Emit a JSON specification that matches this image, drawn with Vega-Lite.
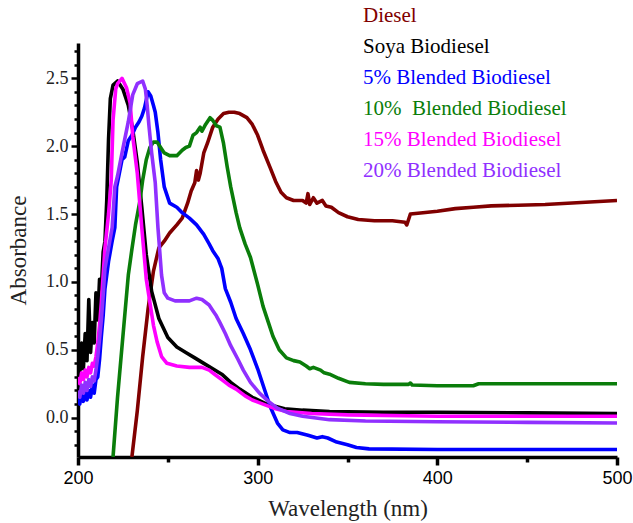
{
"$schema": "https://vega.github.io/schema/vega-lite/v6.json",
"width": 539, "height": 414,
"autosize": "none",
"padding": {"left": 78, "top": 43, "right": 16, "bottom": 66},
"background": "white",
"config": {"view": {"stroke": null}},
"data": {"values": [
{"s":"Diesel","wl":230,"a":-0.29},{"s":"Diesel","wl":233,"a":0.05},{"s":"Diesel","wl":236,"a":0.45},{"s":"Diesel","wl":239,"a":0.8},{"s":"Diesel","wl":242,"a":1.08},{"s":"Diesel","wl":245,"a":1.25},{"s":"Diesel","wl":248,"a":1.3},{"s":"Diesel","wl":251,"a":1.36},{"s":"Diesel","wl":255,"a":1.42},{"s":"Diesel","wl":258,"a":1.47},{"s":"Diesel","wl":261,"a":1.58},{"s":"Diesel","wl":263,"a":1.67},{"s":"Diesel","wl":265,"a":1.73},{"s":"Diesel","wl":266,"a":1.82},{"s":"Diesel","wl":267,"a":1.75},{"s":"Diesel","wl":268,"a":1.8},{"s":"Diesel","wl":270,"a":1.95},{"s":"Diesel","wl":272,"a":2.02},{"s":"Diesel","wl":275,"a":2.14},{"s":"Diesel","wl":278,"a":2.2},{"s":"Diesel","wl":281,"a":2.24},{"s":"Diesel","wl":284,"a":2.25},{"s":"Diesel","wl":287,"a":2.25},{"s":"Diesel","wl":290,"a":2.24},{"s":"Diesel","wl":294,"a":2.21},{"s":"Diesel","wl":297,"a":2.16},{"s":"Diesel","wl":300,"a":2.08},{"s":"Diesel","wl":303,"a":1.97},{"s":"Diesel","wl":307,"a":1.84},{"s":"Diesel","wl":310,"a":1.74},{"s":"Diesel","wl":313,"a":1.66},{"s":"Diesel","wl":316,"a":1.62},{"s":"Diesel","wl":320,"a":1.6},{"s":"Diesel","wl":325,"a":1.6},{"s":"Diesel","wl":327,"a":1.58},{"s":"Diesel","wl":328,"a":1.65},{"s":"Diesel","wl":329,"a":1.57},{"s":"Diesel","wl":331,"a":1.62},{"s":"Diesel","wl":333,"a":1.58},{"s":"Diesel","wl":336,"a":1.6},{"s":"Diesel","wl":338,"a":1.56},{"s":"Diesel","wl":341,"a":1.55},{"s":"Diesel","wl":345,"a":1.51},{"s":"Diesel","wl":350,"a":1.48},{"s":"Diesel","wl":356,"a":1.46},{"s":"Diesel","wl":365,"a":1.45},{"s":"Diesel","wl":375,"a":1.45},{"s":"Diesel","wl":382,"a":1.44},{"s":"Diesel","wl":383,"a":1.42},{"s":"Diesel","wl":384,"a":1.46},{"s":"Diesel","wl":385,"a":1.5},{"s":"Diesel","wl":392,"a":1.51},{"s":"Diesel","wl":400,"a":1.52},{"s":"Diesel","wl":410,"a":1.54},{"s":"Diesel","wl":420,"a":1.55},{"s":"Diesel","wl":430,"a":1.56},{"s":"Diesel","wl":445,"a":1.565},{"s":"Diesel","wl":460,"a":1.57},{"s":"Diesel","wl":480,"a":1.585},{"s":"Diesel","wl":500,"a":1.6},
{"s":"Soya Biodiesel","wl":200,"a":0.45},{"s":"Soya Biodiesel","wl":201,"a":0.32},{"s":"Soya Biodiesel","wl":202,"a":0.55},{"s":"Soya Biodiesel","wl":203,"a":0.36},{"s":"Soya Biodiesel","wl":204,"a":0.62},{"s":"Soya Biodiesel","wl":205,"a":0.42},{"s":"Soya Biodiesel","wl":206,"a":0.87},{"s":"Soya Biodiesel","wl":207,"a":0.48},{"s":"Soya Biodiesel","wl":208,"a":0.7},{"s":"Soya Biodiesel","wl":209,"a":0.55},{"s":"Soya Biodiesel","wl":210,"a":0.92},{"s":"Soya Biodiesel","wl":211,"a":0.72},{"s":"Soya Biodiesel","wl":212,"a":1.02},{"s":"Soya Biodiesel","wl":213,"a":0.95},{"s":"Soya Biodiesel","wl":214,"a":1.22},{"s":"Soya Biodiesel","wl":215,"a":1.3},{"s":"Soya Biodiesel","wl":216,"a":1.6},{"s":"Soya Biodiesel","wl":217,"a":2.05},{"s":"Soya Biodiesel","wl":218,"a":2.35},{"s":"Soya Biodiesel","wl":219.5,"a":2.45},{"s":"Soya Biodiesel","wl":222,"a":2.48},{"s":"Soya Biodiesel","wl":225,"a":2.42},{"s":"Soya Biodiesel","wl":228,"a":2.3},{"s":"Soya Biodiesel","wl":230.5,"a":2.12},{"s":"Soya Biodiesel","wl":233,"a":1.88},{"s":"Soya Biodiesel","wl":235.5,"a":1.55},{"s":"Soya Biodiesel","wl":238,"a":1.2},{"s":"Soya Biodiesel","wl":241,"a":0.93},{"s":"Soya Biodiesel","wl":245,"a":0.73},{"s":"Soya Biodiesel","wl":250,"a":0.59},{"s":"Soya Biodiesel","wl":255,"a":0.52},{"s":"Soya Biodiesel","wl":260,"a":0.48},{"s":"Soya Biodiesel","wl":265,"a":0.44},{"s":"Soya Biodiesel","wl":270,"a":0.4},{"s":"Soya Biodiesel","wl":275,"a":0.36},{"s":"Soya Biodiesel","wl":280,"a":0.32},{"s":"Soya Biodiesel","wl":285,"a":0.26},{"s":"Soya Biodiesel","wl":290,"a":0.21},{"s":"Soya Biodiesel","wl":297,"a":0.15},{"s":"Soya Biodiesel","wl":305,"a":0.1},{"s":"Soya Biodiesel","wl":315,"a":0.065},{"s":"Soya Biodiesel","wl":325,"a":0.055},{"s":"Soya Biodiesel","wl":340,"a":0.045},{"s":"Soya Biodiesel","wl":370,"a":0.04},{"s":"Soya Biodiesel","wl":400,"a":0.04},{"s":"Soya Biodiesel","wl":450,"a":0.035},{"s":"Soya Biodiesel","wl":500,"a":0.03},
{"s":"5% Blended Biodiesel","wl":200,"a":0.15},{"s":"5% Blended Biodiesel","wl":201,"a":0.1},{"s":"5% Blended Biodiesel","wl":202,"a":0.2},{"s":"5% Blended Biodiesel","wl":203,"a":0.12},{"s":"5% Blended Biodiesel","wl":204,"a":0.22},{"s":"5% Blended Biodiesel","wl":205,"a":0.13},{"s":"5% Blended Biodiesel","wl":206,"a":0.2},{"s":"5% Blended Biodiesel","wl":207,"a":0.15},{"s":"5% Blended Biodiesel","wl":208,"a":0.24},{"s":"5% Blended Biodiesel","wl":209,"a":0.18},{"s":"5% Blended Biodiesel","wl":210,"a":0.28},{"s":"5% Blended Biodiesel","wl":211,"a":0.3},{"s":"5% Blended Biodiesel","wl":212,"a":0.43},{"s":"5% Blended Biodiesel","wl":213,"a":0.6},{"s":"5% Blended Biodiesel","wl":214,"a":0.75},{"s":"5% Blended Biodiesel","wl":215,"a":0.95},{"s":"5% Blended Biodiesel","wl":217,"a":1.15},{"s":"5% Blended Biodiesel","wl":219,"a":1.3},{"s":"5% Blended Biodiesel","wl":220.5,"a":1.4},{"s":"5% Blended Biodiesel","wl":221.5,"a":1.7},{"s":"5% Blended Biodiesel","wl":223,"a":1.8},{"s":"5% Blended Biodiesel","wl":224.5,"a":1.9},{"s":"5% Blended Biodiesel","wl":226,"a":1.92},{"s":"5% Blended Biodiesel","wl":228,"a":2.04},{"s":"5% Blended Biodiesel","wl":230,"a":2.08},{"s":"5% Blended Biodiesel","wl":232,"a":2.14},{"s":"5% Blended Biodiesel","wl":234,"a":2.18},{"s":"5% Blended Biodiesel","wl":235.5,"a":2.22},{"s":"5% Blended Biodiesel","wl":237,"a":2.28},{"s":"5% Blended Biodiesel","wl":239,"a":2.4},{"s":"5% Blended Biodiesel","wl":240.5,"a":2.37},{"s":"5% Blended Biodiesel","wl":242,"a":2.3},{"s":"5% Blended Biodiesel","wl":243,"a":2.25},{"s":"5% Blended Biodiesel","wl":244.5,"a":2.1},{"s":"5% Blended Biodiesel","wl":246,"a":1.9},{"s":"5% Blended Biodiesel","wl":248,"a":1.7},{"s":"5% Blended Biodiesel","wl":251,"a":1.58},{"s":"5% Blended Biodiesel","wl":255,"a":1.55},{"s":"5% Blended Biodiesel","wl":258,"a":1.51},{"s":"5% Blended Biodiesel","wl":262,"a":1.47},{"s":"5% Blended Biodiesel","wl":266,"a":1.42},{"s":"5% Blended Biodiesel","wl":270,"a":1.35},{"s":"5% Blended Biodiesel","wl":273,"a":1.28},{"s":"5% Blended Biodiesel","wl":275,"a":1.23},{"s":"5% Blended Biodiesel","wl":278,"a":1.17},{"s":"5% Blended Biodiesel","wl":280,"a":1.1},{"s":"5% Blended Biodiesel","wl":282,"a":0.95},{"s":"5% Blended Biodiesel","wl":285,"a":0.85},{"s":"5% Blended Biodiesel","wl":288,"a":0.73},{"s":"5% Blended Biodiesel","wl":292,"a":0.62},{"s":"5% Blended Biodiesel","wl":296,"a":0.5},{"s":"5% Blended Biodiesel","wl":300,"a":0.36},{"s":"5% Blended Biodiesel","wl":304,"a":0.2},{"s":"5% Blended Biodiesel","wl":307,"a":0.08},{"s":"5% Blended Biodiesel","wl":311,"a":-0.04},{"s":"5% Blended Biodiesel","wl":314,"a":-0.09},{"s":"5% Blended Biodiesel","wl":318,"a":-0.11},{"s":"5% Blended Biodiesel","wl":322,"a":-0.11},{"s":"5% Blended Biodiesel","wl":328,"a":-0.13},{"s":"5% Blended Biodiesel","wl":333,"a":-0.15},{"s":"5% Blended Biodiesel","wl":336,"a":-0.14},{"s":"5% Blended Biodiesel","wl":339,"a":-0.15},{"s":"5% Blended Biodiesel","wl":344,"a":-0.18},{"s":"5% Blended Biodiesel","wl":350,"a":-0.2},{"s":"5% Blended Biodiesel","wl":355,"a":-0.22},{"s":"5% Blended Biodiesel","wl":362,"a":-0.23},{"s":"5% Blended Biodiesel","wl":400,"a":-0.235},{"s":"5% Blended Biodiesel","wl":450,"a":-0.235},{"s":"5% Blended Biodiesel","wl":500,"a":-0.235},
{"s":"10%\u00a0 Blended Biodiesel","wl":219.5,"a":-0.29},{"s":"10%\u00a0 Blended Biodiesel","wl":222,"a":0.15},{"s":"10%\u00a0 Blended Biodiesel","wl":225,"a":0.6},{"s":"10%\u00a0 Blended Biodiesel","wl":228,"a":1.05},{"s":"10%\u00a0 Blended Biodiesel","wl":230,"a":1.24},{"s":"10%\u00a0 Blended Biodiesel","wl":232,"a":1.42},{"s":"10%\u00a0 Blended Biodiesel","wl":234.5,"a":1.6},{"s":"10%\u00a0 Blended Biodiesel","wl":236,"a":1.75},{"s":"10%\u00a0 Blended Biodiesel","wl":238,"a":1.9},{"s":"10%\u00a0 Blended Biodiesel","wl":240,"a":1.99},{"s":"10%\u00a0 Blended Biodiesel","wl":242,"a":2.03},{"s":"10%\u00a0 Blended Biodiesel","wl":244,"a":2.03},{"s":"10%\u00a0 Blended Biodiesel","wl":246,"a":1.99},{"s":"10%\u00a0 Blended Biodiesel","wl":248,"a":1.95},{"s":"10%\u00a0 Blended Biodiesel","wl":251,"a":1.93},{"s":"10%\u00a0 Blended Biodiesel","wl":255,"a":1.93},{"s":"10%\u00a0 Blended Biodiesel","wl":258,"a":1.97},{"s":"10%\u00a0 Blended Biodiesel","wl":260,"a":1.99},{"s":"10%\u00a0 Blended Biodiesel","wl":262,"a":2.0},{"s":"10%\u00a0 Blended Biodiesel","wl":264,"a":2.08},{"s":"10%\u00a0 Blended Biodiesel","wl":266,"a":2.1},{"s":"10%\u00a0 Blended Biodiesel","wl":268,"a":2.14},{"s":"10%\u00a0 Blended Biodiesel","wl":269,"a":2.11},{"s":"10%\u00a0 Blended Biodiesel","wl":271,"a":2.16},{"s":"10%\u00a0 Blended Biodiesel","wl":273.5,"a":2.21},{"s":"10%\u00a0 Blended Biodiesel","wl":275,"a":2.19},{"s":"10%\u00a0 Blended Biodiesel","wl":277,"a":2.15},{"s":"10%\u00a0 Blended Biodiesel","wl":279,"a":2.14},{"s":"10%\u00a0 Blended Biodiesel","wl":281,"a":2.02},{"s":"10%\u00a0 Blended Biodiesel","wl":283,"a":1.85},{"s":"10%\u00a0 Blended Biodiesel","wl":285,"a":1.7},{"s":"10%\u00a0 Blended Biodiesel","wl":288,"a":1.51},{"s":"10%\u00a0 Blended Biodiesel","wl":290,"a":1.4},{"s":"10%\u00a0 Blended Biodiesel","wl":293,"a":1.28},{"s":"10%\u00a0 Blended Biodiesel","wl":296,"a":1.18},{"s":"10%\u00a0 Blended Biodiesel","wl":300,"a":0.98},{"s":"10%\u00a0 Blended Biodiesel","wl":303,"a":0.82},{"s":"10%\u00a0 Blended Biodiesel","wl":306,"a":0.7},{"s":"10%\u00a0 Blended Biodiesel","wl":308.5,"a":0.6},{"s":"10%\u00a0 Blended Biodiesel","wl":312,"a":0.5},{"s":"10%\u00a0 Blended Biodiesel","wl":316,"a":0.44},{"s":"10%\u00a0 Blended Biodiesel","wl":320,"a":0.42},{"s":"10%\u00a0 Blended Biodiesel","wl":323.5,"a":0.41},{"s":"10%\u00a0 Blended Biodiesel","wl":327,"a":0.38},{"s":"10%\u00a0 Blended Biodiesel","wl":329,"a":0.36},{"s":"10%\u00a0 Blended Biodiesel","wl":331,"a":0.37},{"s":"10%\u00a0 Blended Biodiesel","wl":335,"a":0.35},{"s":"10%\u00a0 Blended Biodiesel","wl":337,"a":0.33},{"s":"10%\u00a0 Blended Biodiesel","wl":340,"a":0.32},{"s":"10%\u00a0 Blended Biodiesel","wl":345,"a":0.29},{"s":"10%\u00a0 Blended Biodiesel","wl":351,"a":0.26},{"s":"10%\u00a0 Blended Biodiesel","wl":360,"a":0.25},{"s":"10%\u00a0 Blended Biodiesel","wl":370,"a":0.245},{"s":"10%\u00a0 Blended Biodiesel","wl":384,"a":0.245},{"s":"10%\u00a0 Blended Biodiesel","wl":385,"a":0.255},{"s":"10%\u00a0 Blended Biodiesel","wl":386,"a":0.24},{"s":"10%\u00a0 Blended Biodiesel","wl":400,"a":0.235},{"s":"10%\u00a0 Blended Biodiesel","wl":420,"a":0.235},{"s":"10%\u00a0 Blended Biodiesel","wl":423,"a":0.25},{"s":"10%\u00a0 Blended Biodiesel","wl":450,"a":0.25},{"s":"10%\u00a0 Blended Biodiesel","wl":500,"a":0.25},
{"s":"15% Blended Biodiesel","wl":200,"a":0.3},{"s":"15% Blended Biodiesel","wl":201,"a":0.25},{"s":"15% Blended Biodiesel","wl":202,"a":0.33},{"s":"15% Blended Biodiesel","wl":203,"a":0.28},{"s":"15% Blended Biodiesel","wl":204,"a":0.35},{"s":"15% Blended Biodiesel","wl":205,"a":0.3},{"s":"15% Blended Biodiesel","wl":206,"a":0.37},{"s":"15% Blended Biodiesel","wl":207,"a":0.33},{"s":"15% Blended Biodiesel","wl":208,"a":0.4},{"s":"15% Blended Biodiesel","wl":209,"a":0.38},{"s":"15% Blended Biodiesel","wl":210,"a":0.45},{"s":"15% Blended Biodiesel","wl":211,"a":0.55},{"s":"15% Blended Biodiesel","wl":212,"a":0.68},{"s":"15% Blended Biodiesel","wl":213,"a":0.85},{"s":"15% Blended Biodiesel","wl":214,"a":1.05},{"s":"15% Blended Biodiesel","wl":215,"a":1.25},{"s":"15% Blended Biodiesel","wl":217,"a":1.5},{"s":"15% Blended Biodiesel","wl":218.5,"a":1.75},{"s":"15% Blended Biodiesel","wl":219.5,"a":2.19},{"s":"15% Blended Biodiesel","wl":221,"a":2.42},{"s":"15% Blended Biodiesel","wl":222,"a":2.46},{"s":"15% Blended Biodiesel","wl":224.5,"a":2.5},{"s":"15% Blended Biodiesel","wl":227,"a":2.43},{"s":"15% Blended Biodiesel","wl":229,"a":2.32},{"s":"15% Blended Biodiesel","wl":230.5,"a":2.07},{"s":"15% Blended Biodiesel","wl":233,"a":1.8},{"s":"15% Blended Biodiesel","wl":235.5,"a":1.4},{"s":"15% Blended Biodiesel","wl":238,"a":1.02},{"s":"15% Blended Biodiesel","wl":240,"a":0.85},{"s":"15% Blended Biodiesel","wl":242,"a":0.68},{"s":"15% Blended Biodiesel","wl":244,"a":0.56},{"s":"15% Blended Biodiesel","wl":246.5,"a":0.45},{"s":"15% Blended Biodiesel","wl":249.5,"a":0.4},{"s":"15% Blended Biodiesel","wl":255,"a":0.38},{"s":"15% Blended Biodiesel","wl":262,"a":0.37},{"s":"15% Blended Biodiesel","wl":269,"a":0.37},{"s":"15% Blended Biodiesel","wl":273,"a":0.35},{"s":"15% Blended Biodiesel","wl":276,"a":0.32},{"s":"15% Blended Biodiesel","wl":280,"a":0.28},{"s":"15% Blended Biodiesel","wl":284,"a":0.24},{"s":"15% Blended Biodiesel","wl":288,"a":0.21},{"s":"15% Blended Biodiesel","wl":293,"a":0.16},{"s":"15% Blended Biodiesel","wl":297,"a":0.13},{"s":"15% Blended Biodiesel","wl":303,"a":0.1},{"s":"15% Blended Biodiesel","wl":310,"a":0.065},{"s":"15% Blended Biodiesel","wl":316,"a":0.045},{"s":"15% Blended Biodiesel","wl":330,"a":0.03},{"s":"15% Blended Biodiesel","wl":350,"a":0.02},{"s":"15% Blended Biodiesel","wl":400,"a":0.01},{"s":"15% Blended Biodiesel","wl":500,"a":0.01},
{"s":"20% Blended Biodiesel","wl":200,"a":0.2},{"s":"20% Blended Biodiesel","wl":201,"a":0.15},{"s":"20% Blended Biodiesel","wl":202,"a":0.24},{"s":"20% Blended Biodiesel","wl":203,"a":0.18},{"s":"20% Blended Biodiesel","wl":204,"a":0.26},{"s":"20% Blended Biodiesel","wl":205,"a":0.2},{"s":"20% Blended Biodiesel","wl":206,"a":0.28},{"s":"20% Blended Biodiesel","wl":207,"a":0.23},{"s":"20% Blended Biodiesel","wl":208,"a":0.3},{"s":"20% Blended Biodiesel","wl":209,"a":0.27},{"s":"20% Blended Biodiesel","wl":210,"a":0.35},{"s":"20% Blended Biodiesel","wl":211,"a":0.45},{"s":"20% Blended Biodiesel","wl":212,"a":0.58},{"s":"20% Blended Biodiesel","wl":213,"a":0.72},{"s":"20% Blended Biodiesel","wl":214,"a":0.9},{"s":"20% Blended Biodiesel","wl":215,"a":1.1},{"s":"20% Blended Biodiesel","wl":217,"a":1.25},{"s":"20% Blended Biodiesel","wl":219,"a":1.4},{"s":"20% Blended Biodiesel","wl":220.5,"a":1.7},{"s":"20% Blended Biodiesel","wl":222,"a":1.78},{"s":"20% Blended Biodiesel","wl":224.5,"a":1.95},{"s":"20% Blended Biodiesel","wl":226,"a":2.05},{"s":"20% Blended Biodiesel","wl":228,"a":2.18},{"s":"20% Blended Biodiesel","wl":230.5,"a":2.38},{"s":"20% Blended Biodiesel","wl":233,"a":2.46},{"s":"20% Blended Biodiesel","wl":236,"a":2.48},{"s":"20% Blended Biodiesel","wl":237.5,"a":2.42},{"s":"20% Blended Biodiesel","wl":238.5,"a":2.3},{"s":"20% Blended Biodiesel","wl":239.5,"a":2.15},{"s":"20% Blended Biodiesel","wl":241,"a":1.95},{"s":"20% Blended Biodiesel","wl":243,"a":1.73},{"s":"20% Blended Biodiesel","wl":244.5,"a":1.4},{"s":"20% Blended Biodiesel","wl":246.5,"a":1.05},{"s":"20% Blended Biodiesel","wl":248,"a":0.92},{"s":"20% Blended Biodiesel","wl":250,"a":0.88},{"s":"20% Blended Biodiesel","wl":254,"a":0.86},{"s":"20% Blended Biodiesel","wl":257,"a":0.86},{"s":"20% Blended Biodiesel","wl":262,"a":0.86},{"s":"20% Blended Biodiesel","wl":266,"a":0.88},{"s":"20% Blended Biodiesel","wl":269,"a":0.87},{"s":"20% Blended Biodiesel","wl":271,"a":0.85},{"s":"20% Blended Biodiesel","wl":273,"a":0.83},{"s":"20% Blended Biodiesel","wl":275,"a":0.79},{"s":"20% Blended Biodiesel","wl":277,"a":0.75},{"s":"20% Blended Biodiesel","wl":279,"a":0.7},{"s":"20% Blended Biodiesel","wl":282,"a":0.62},{"s":"20% Blended Biodiesel","wl":285,"a":0.53},{"s":"20% Blended Biodiesel","wl":289,"a":0.43},{"s":"20% Blended Biodiesel","wl":292,"a":0.35},{"s":"20% Blended Biodiesel","wl":296,"a":0.26},{"s":"20% Blended Biodiesel","wl":301,"a":0.18},{"s":"20% Blended Biodiesel","wl":306,"a":0.12},{"s":"20% Blended Biodiesel","wl":311,"a":0.07},{"s":"20% Blended Biodiesel","wl":318,"a":0.03},{"s":"20% Blended Biodiesel","wl":325,"a":0.01},{"s":"20% Blended Biodiesel","wl":340,"a":-0.015},{"s":"20% Blended Biodiesel","wl":360,"a":-0.025},{"s":"20% Blended Biodiesel","wl":400,"a":-0.03},{"s":"20% Blended Biodiesel","wl":450,"a":-0.035},{"s":"20% Blended Biodiesel","wl":500,"a":-0.04}
]},
"mark": {"type": "line", "strokeWidth": 3.6, "clip": true, "strokeJoin": "round"},
"encoding": {
  "x": {"field": "wl", "type": "quantitative",
    "scale": {"domain": [200, 500], "nice": false, "zero": false},
    "axis": {"values": [200, 250, 300, 350, 400, 450, 500],
      "labelExpr": "datum.value % 100 == 0 ? datum.label : ''",
      "format": "d", "labelFlush": false,
      "title": "Wavelength (nm)", "grid": false,
      "domainColor": "black", "domainWidth": 3.5, "tickColor": "black", "tickWidth": 3.5,
      "tickSize": {"condition": {"test": "datum.value % 100 == 0", "value": 8}, "value": 5},
      "labelFont": "Liberation Sans", "labelFontSize": 18, "labelColor": "black", "labelPadding": 4, "labelOverlap": false,
      "titleFont": "Times New Roman, Liberation Serif, DejaVu Serif, serif", "titleFontSize": 23, "titleFontWeight": "normal", "titleColor": "#222", "titlePadding": 10}},
  "y": {"field": "a", "type": "quantitative",
    "scale": {"domain": [-0.29, 2.76], "nice": false, "zero": false},
    "axis": {"values": [-0.2,-0.1,0,0.1,0.2,0.3,0.4,0.5,0.6,0.7,0.8,0.9,1,1.1,1.2,1.3,1.4,1.5,1.6,1.7,1.8,1.9,2,2.1,2.2,2.3,2.4,2.5,2.6,2.7],
      "labelExpr": "abs(round(datum.value*2) - datum.value*2) < 0.001 ? format(datum.value, '.1f') : ''",
      "title": "Absorbance", "grid": false,
      "domainColor": "black", "domainWidth": 3.5, "tickColor": "black", "tickWidth": 2.5,
      "tickSize": {"condition": {"test": "abs(round(datum.value*2) - datum.value*2) < 0.001", "value": 7}, "value": 4},
      "labelFont": "Times New Roman, Liberation Serif, DejaVu Serif, serif", "labelFontSize": 18, "labelColor": "#222", "labelPadding": 3, "labelOverlap": false,
      "titleFont": "Times New Roman, Liberation Serif, DejaVu Serif, serif", "titleFontSize": 23, "titleFontWeight": "normal", "titleColor": "#222", "titlePadding": 15}},
  "color": {"field": "s", "type": "nominal",
    "scale": {"domain": ["Diesel", "Soya Biodiesel", "5% Blended Biodiesel", "10%\u00a0 Blended Biodiesel", "15% Blended Biodiesel", "20% Blended Biodiesel"],
      "range": ["#800000", "#000000", "#0000ff", "#0a7d0a", "#ff00ff", "#9030ff"]},
    "legend": {"orient": "none", "legendX": 264, "legendY": -38, "title": null,
      "symbolSize": 0, "symbolStrokeWidth": 0, "symbolOpacity": 0, "labelOffset": 0,
      "labelFont": "Times New Roman, Liberation Serif, DejaVu Serif, serif", "labelFontSize": 21, "labelLimit": 400, "rowPadding": 9,
      "encode": {"labels": {"update": {"fill": {"scale": "color", "field": "value"}}}}}}
}
}
